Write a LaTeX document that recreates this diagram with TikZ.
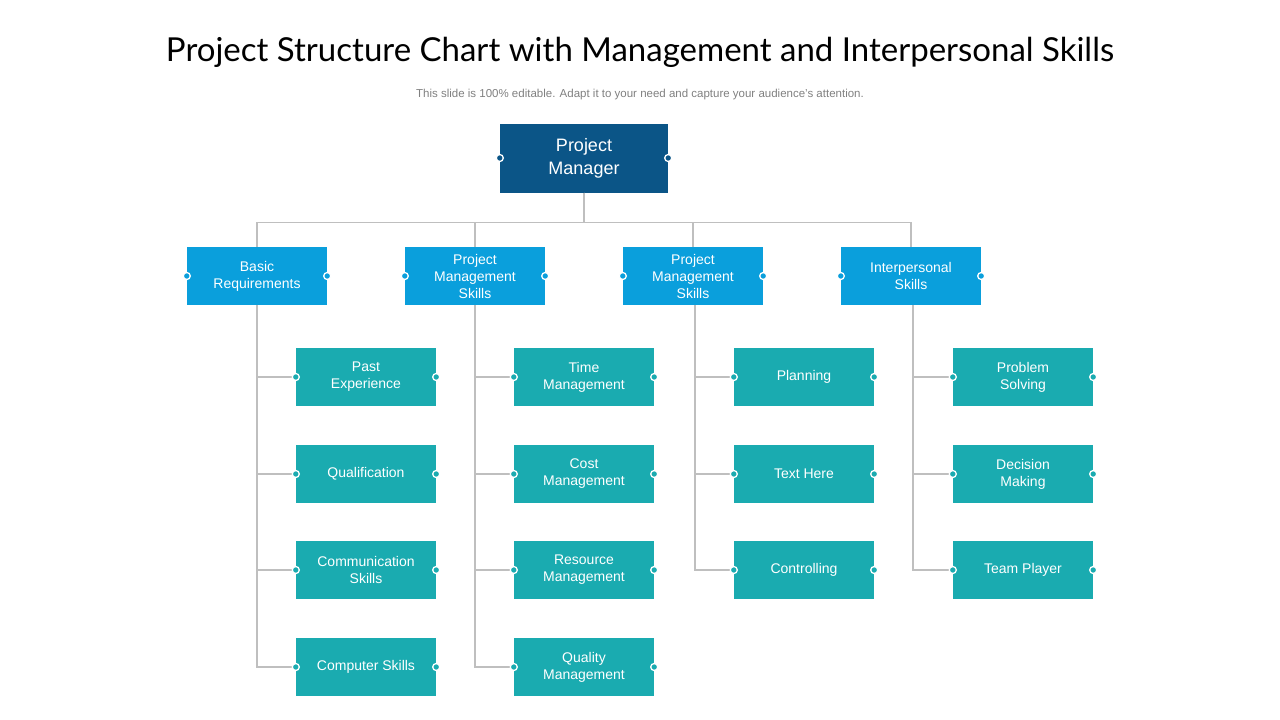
\documentclass[tikz,border=0pt]{standalone}
\usepackage{fontspec}
\setmainfont{Liberation Sans}
\newfontfamily\titlefont{Lato}
\usetikzlibrary{positioning}
\definecolor{pmblue}{HTML}{0B5587}
\definecolor{lvblue}{HTML}{0A9FDC}
\definecolor{lvteal}{HTML}{1AABB0}
\definecolor{linegray}{HTML}{BFBFBF}
\begin{document}
\begin{tikzpicture}[x=1pt,y=-1pt,
			box/.style={
				rectangle,
				fill=#1,
				text=white,
				align=center,
				minimum width=140pt,
				minimum height=58pt,
				inner sep=2pt,
				font=\fontsize{14}{17}\selectfont,
			},
			Link/.style={% tree connectors
				draw=linegray,
				line width=1.5pt,
			},
			dot/.style={circle, draw=white, fill=#1, line width=1.3pt, inner sep=0pt, minimum size=7pt},
			]
				\useasboundingbox (0,0) rectangle (1280,720);
				% title
				\node[font=\titlefont\fontsize{33}{38}\selectfont] (title) at (640,52) {Project Structure Chart with Management and Interpersonal Skills};
				\node[text=gray, font=\fontsize{11.5}{13}\selectfont] (sub) at (640,95) {This slide is 100\% editable. Adapt it to your need and capture your audience’s attention.};
				% head
				\node[box=pmblue, minimum width=168pt, minimum height=69pt, font=\fontsize{18}{23}\selectfont] (pm) at (584,158) {Project\\Manager};
				% level one
				\node[box=lvblue] (basic) at (257,276) {Basic\\Requirements};
				\node[box=lvblue] (pms1) at (475,276) {Project\\Management\\Skills};
				\node[box=lvblue] (pms2) at (693,276) {Project\\Management\\Skills};
				\node[box=lvblue] (inter) at (911,276) {Interpersonal\\Skills};
				% level two
				\node[box=lvteal] (past) at (366,377) {Past\\Experience};
				\node[box=lvteal] (qual) at (366,474) {Qualification};
				\node[box=lvteal] (comm) at (366,570) {Communication\\Skills};
				\node[box=lvteal] (comp) at (366,667) {Computer Skills};
				\node[box=lvteal] (time) at (584,377) {Time\\Management};
				\node[box=lvteal] (cost) at (584,474) {Cost\\Management};
				\node[box=lvteal] (reso) at (584,570) {Resource\\Management};
				\node[box=lvteal] (qlty) at (584,667) {Quality\\Management};
				\node[box=lvteal] (plan) at (804,377) {Planning};
				\node[box=lvteal] (text) at (804,474) {Text Here};
				\node[box=lvteal] (ctrl) at (804,570) {Controlling};
				\node[box=lvteal] (prob) at (1023,377) {Problem\\Solving};
				\node[box=lvteal] (deci) at (1023,474) {Decision\\Making};
				\node[box=lvteal] (team) at (1023,570) {Team Player};
				
				\foreach \n in {basic,pms1,pms2,inter}
					\draw[Link] (pm.south) -- ++(0,30) -| (\n.north);
				\foreach \n in {past,qual,comm,comp}
					\draw[Link] (basic.south) |- (\n.west);
				\foreach \n in {time,cost,reso,qlty}
					\draw[Link] (pms1.south) |- (\n.west);
				\foreach \n in {plan,text,ctrl}
					\draw[Link] ([xshift=2pt]pms2.south) |- (\n.west);
				\foreach \n in {prob,deci,team}
					\draw[Link] ([xshift=2pt]inter.south) |- (\n.west);
				
				% handles
				\node[dot=pmblue] (pmw) at (pm.west) {};
				\node[dot=pmblue] (pme) at (pm.east) {};
				\foreach \n in {basic,pms1,pms2,inter}{
					\node[dot=lvblue] (\n w) at (\n.west) {};
					\node[dot=lvblue] (\n e) at (\n.east) {};
				}
				\foreach \n in {past,qual,comm,comp,time,cost,reso,qlty,plan,text,ctrl,prob,deci,team}{
					\node[dot=lvteal] (\n w) at (\n.west) {};
					\node[dot=lvteal] (\n e) at (\n.east) {};
				}
			\end{tikzpicture}
\end{document}
